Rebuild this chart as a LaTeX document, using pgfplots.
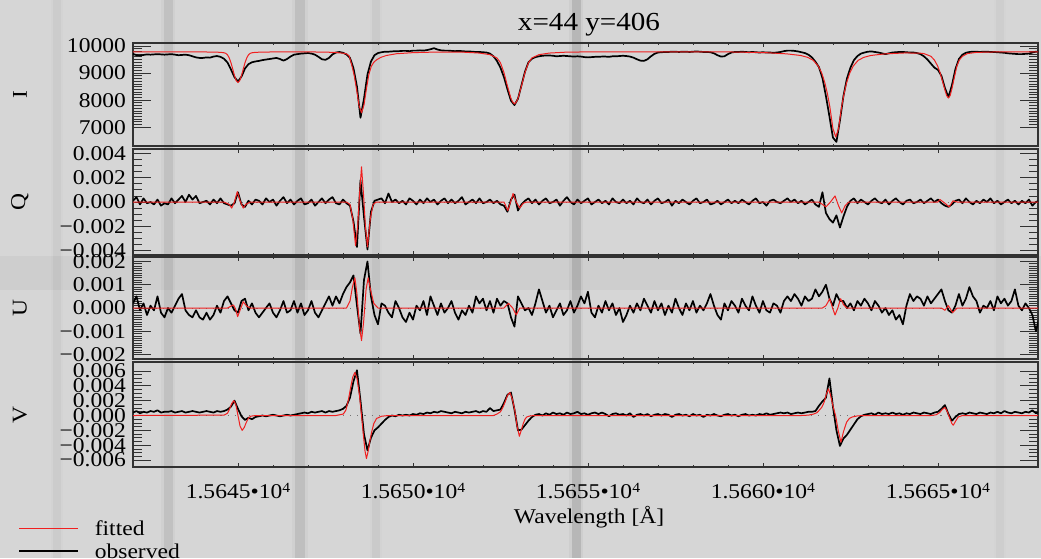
\documentclass[border=0pt]{standalone}
\usepackage{fontspec}
\setmainfont{Liberation Serif}[FakeStretch=1.12]
\usepackage{pgfplots}
\usepackage{pgfplotstable}
\pgfplotsset{compat=1.18}

\definecolor{bgc}{RGB}{214,214,214}
\definecolor{fitred}{RGB}{240,32,32}
\definecolor{framec}{RGB}{50,50,50}

\newcommand{\lab}{\fontsize{21}{25}\selectfont}
\newcommand{\wl}[1]{1.56#1•10\raisebox{6pt}{\fontsize{14}{14}\selectfont 4}}

% observed Stokes profiles: I in counts, Q, U, V in units of 1e-4
\pgfplotstableread{
x I Q U V
15642.0 9710 1 2 4
15642.1 9660 4 5 6
15642.2 9650 -2 -1 3
15642.3 9670 3 2 5
15642.4 9690 -1 -3 4
15642.5 9680 0 1 6
15642.6 9690 -2 -1 5
15642.7 9700 2 5 7
15642.8 9690 -3 -2 4
15642.9 9680 -1 -4 5
15643.0 9690 -2 0 5
15643.1 9700 3 -2 6
15643.2 9680 -1 1 4
15643.3 9660 2 4 5
15643.4 9670 5 6 6
15643.5 9680 0 -1 4
15643.6 9660 6 -3 5
15643.7 9620 2 -4 6
15643.8 9580 5 -1 5
15643.9 9560 -1 -4 4
15644.0 9560 0 -5 5
15644.1 9580 1 -2 6
15644.2 9570 -2 -5 5
15644.3 9610 2 -3 4
15644.4 9630 -1 1 6
15644.5 9600 3 -2 5
15644.6 9530 -1 3 6
15644.7 9390 -2 5 8
15644.8 9130 -3 2 12
15644.9 8850 -1 -1 20
15645.0 8690 8 -2 9
15645.1 8870 -2 3 -1
15645.2 9170 -4 4 -6
15645.3 9330 1 -1 -3
15645.4 9400 -2 2 -5
15645.5 9430 2 -2 -2
15645.6 9450 1 -4 -1
15645.7 9480 -2 -2 0
15645.8 9500 3 0 -1
15645.9 9520 0 2 0
15646.0 9540 2 -2 1
15646.1 9560 -3 -4 0
15646.2 9520 1 -1 -1
15646.3 9460 4 3 0
15646.4 9520 -1 -2 1
15646.5 9610 2 -1 0
15646.6 9680 -2 3 1
15646.7 9700 1 -2 2
15646.8 9720 3 2 3
15646.9 9730 -2 -3 4
15647.0 9740 -1 -1 3
15647.1 9720 2 3 5
15647.2 9680 -3 -2 4
15647.3 9600 0 -4 5
15647.4 9510 3 -1 6
15647.5 9490 -1 2 4
15647.6 9560 2 5 6
15647.7 9690 4 1 5
15647.8 9760 -1 5 6
15647.9 9780 -2 2 7
15648.0 9750 2 6 9
15648.1 9690 -1 9 13
15648.2 9560 -3 11 24
15648.3 9180 -16 14 46
15648.4 8500 -37 1 61
15648.5 7350 18 -11 20
15648.6 8050 -12 12 -25
15648.7 8950 -39 20 -47
15648.8 9430 -8 5 -30
15648.9 9660 1 -3 -20
15649.0 9740 2 -7 -16
15649.1 9770 3 2 -11
15649.2 9790 -1 1 -6
15649.3 9790 7 -2 -2
15649.4 9800 0 -4 0
15649.5 9810 2 3 -1
15649.6 9810 -1 0 1
15649.7 9820 1 -4 0
15649.8 9820 -2 -6 1
15649.9 9810 3 -2 0
15650.0 9830 1 -5 2
15650.1 9830 -2 1 1
15650.2 9840 2 -1 3
15650.3 9830 -1 3 2
15650.4 9850 3 -3 4
15650.5 9880 0 5 3
15650.6 9920 2 1 5
15650.7 9870 -2 -3 4
15650.8 9840 1 2 6
15650.9 9830 3 -2 5
15651.0 9830 -1 0 4
15651.1 9820 2 3 3
15651.2 9810 -1 -2 5
15651.3 9820 1 -5 4
15651.4 9810 4 -1 3
15651.5 9800 -2 -3 5
15651.6 9800 0 1 4
15651.7 9790 2 -2 5
15651.8 9780 -1 5 6
15651.9 9780 3 2 4
15652.0 9770 -1 4 6
15652.1 9760 0 -1 5
15652.2 9720 2 3 10
15652.3 9620 -1 -2 6
15652.4 9450 1 4 7
15652.5 9200 -2 1 8
15652.6 8850 -3 3 17
15652.7 8400 -8 2 28
15652.8 7980 2 -4 31
15652.9 7820 6 -8 8
15653.0 8050 -7 5 -20
15653.1 8550 -2 2 -19
15653.2 9050 1 -1 -13
15653.3 9400 3 0 -7
15653.4 9530 -1 -3 -2
15653.5 9590 2 2 1
15653.6 9620 -2 8 2
15653.7 9640 1 3 0
15653.8 9650 3 -2 3
15653.9 9650 -1 1 1
15654.0 9640 0 -4 4
15654.1 9620 2 -1 2
15654.2 9630 -3 2 3
15654.3 9640 1 -3 1
15654.4 9630 4 -1 4
15654.5 9620 0 3 2
15654.6 9610 -2 -2 3
15654.7 9620 2 1 5
15654.8 9610 -1 5 2
15654.9 9590 1 2 3
15655.0 9580 3 7 1
15655.1 9590 -2 -2 3
15655.2 9600 0 -4 4
15655.3 9600 2 1 2
15655.4 9610 -1 -2 4
15655.5 9610 1 3 2
15655.6 9600 -2 -1 -1
15655.7 9620 3 2 2
15655.8 9620 0 -3 3
15655.9 9630 -1 0 1
15656.0 9640 2 -6 2
15656.1 9630 -1 -3 0
15656.2 9610 1 1 3
15656.3 9570 -2 -2 -2
15656.4 9510 3 2 1
15656.5 9460 0 -1 2
15656.6 9450 -1 4 0
15656.7 9510 2 1 2
15656.8 9620 -2 -2 -1
15656.9 9710 1 3 1
15657.0 9760 3 -1 2
15657.1 9770 -1 2 0
15657.2 9780 0 -3 2
15657.3 9780 2 1 1
15657.4 9790 -3 -2 -2
15657.5 9790 1 4 1
15657.6 9780 -1 0 2
15657.7 9790 2 -3 0
15657.8 9790 0 2 1
15657.9 9780 -2 -1 -1
15658.0 9790 1 3 2
15658.1 9800 3 -2 0
15658.2 9790 -1 1 1
15658.3 9780 0 -1 -2
15658.4 9780 2 2 1
15658.5 9770 -2 6 0
15658.6 9730 -1 1 2
15658.7 9660 1 -3 0
15658.8 9610 -2 -5 -1
15658.9 9620 0 2 1
15659.0 9700 2 -1 2
15659.1 9760 -1 3 0
15659.2 9780 1 1 1
15659.3 9780 -1 -2 -1
15659.4 9790 2 4 1
15659.5 9780 0 1 2
15659.6 9770 -2 -1 0
15659.7 9780 1 5 1
15659.8 9770 3 1 0
15659.9 9760 -1 -2 2
15660.0 9770 0 3 1
15660.1 9760 -3 -1 3
15660.2 9760 1 -2 1
15660.3 9750 2 2 2
15660.4 9760 0 1 3
15660.5 9780 -1 -2 4
15660.6 9810 1 3 3
15660.7 9830 3 5 4
15660.8 9830 0 3 2
15660.9 9820 2 6 3
15661.0 9800 -1 4 4
15661.1 9770 1 1 3
15661.2 9740 -2 5 4
15661.3 9680 0 3 5
15661.4 9580 2 4 5
15661.5 9420 -2 8 6
15661.6 9220 -4 5 13
15661.7 8820 8 7 19
15661.8 8150 -9 10 24
15661.9 7400 -14 4 50
15662.0 6620 -17 1 12
15662.1 6460 -11 6 -20
15662.2 7250 -21 3 -41
15662.3 8150 -12 3 -31
15662.4 8800 -4 0 -26
15662.5 9200 1 2 -19
15662.6 9480 3 -1 -12
15662.7 9630 -1 3 -5
15662.8 9720 2 1 -1
15662.9 9760 0 4 1
15663.0 9790 -2 2 2
15663.1 9800 1 -1 3
15663.2 9780 3 3 1
15663.3 9760 0 1 4
15663.4 9730 -1 -2 2
15663.5 9700 2 0 3
15663.6 9730 -2 -3 2
15663.7 9760 1 -1 4
15663.8 9770 3 -5 2
15663.9 9780 0 -3 3
15664.0 9780 -2 -7 1
15664.1 9770 1 1 3
15664.2 9760 2 6 2
15664.3 9760 -1 3 4
15664.4 9740 0 5 3
15664.5 9700 2 4 2
15664.6 9620 -1 1 4
15664.7 9500 1 5 3
15664.8 9350 3 2 2
15664.9 9200 0 4 4
15665.0 9120 2 6 5
15665.1 8900 -1 8 9
15665.2 8450 -3 3 14
15665.3 8110 -4 -1 2
15665.4 8550 -2 -2 -7
15665.5 9150 1 1 -2
15665.6 9520 2 6 2
15665.7 9680 -1 1 3
15665.8 9750 3 4 2
15665.9 9780 0 9 4
15666.0 9790 -2 5 3
15666.1 9790 1 3 2
15666.2 9780 -1 -2 4
15666.3 9790 2 1 3
15666.4 9790 0 0 2
15666.5 9780 3 3 4
15666.6 9780 -1 -1 3
15666.7 9770 1 5 5
15666.8 9760 -2 2 3
15666.9 9750 0 4 6
15667.0 9730 2 1 4
15667.1 9720 -1 3 3
15667.2 9710 1 8 5
15667.3 9700 -2 1 4
15667.4 9700 1 -1 3
15667.5 9710 -1 2 5
15667.6 9720 2 0 4
15667.7 9760 -3 -3 7
15667.8 9790 0 -10 3
15667.9 9800 1 -4 5
}\obs

% fitted Stokes I
\pgfplotstableread{
x I
15642.0 9788
15643.0 9786
15644.0 9782
15644.5 9768
15644.6 9750
15644.65 9730
15644.70 9676
15644.75 9559
15644.80 9380
15644.85 9148
15644.90 8907
15644.95 8721
15645.00 8650
15645.05 8721
15645.10 8907
15645.15 9148
15645.20 9380
15645.25 9559
15645.30 9676
15645.35 9730
15645.40 9750
15645.5 9766
15645.7 9776
15646.2 9783
15647.0 9782
15647.5 9775
15647.8 9760
15648.0 9735
15648.1 9710
15648.18 9630
15648.25 9300
15648.32 8920
15648.39 8380
15648.46 7800
15648.53 7530
15648.60 7820
15648.67 8420
15648.74 8950
15648.81 9250
15648.88 9400
15648.96 9490
15649.08 9580
15649.24 9650
15649.53 9715
15650.0 9755
15650.7 9778
15651.4 9775
15651.9 9740
15652.2 9680
15652.4 9560
15652.5 9380
15652.6 9020
15652.7 8520
15652.8 8060
15652.85 7930
15652.9 7860
15652.95 7930
15653.0 8060
15653.1 8520
15653.2 9020
15653.3 9380
15653.4 9560
15653.6 9680
15653.9 9740
15654.4 9775
15655.5 9787
15657.0 9788
15658.5 9785
15659.08 9780
15660.08 9755
15660.68 9710
15661.08 9650
15661.28 9580
15661.44 9470
15661.58 9260
15661.68 9000
15661.77 8640
15661.84 8250
15661.91 7770
15662.00 6950
15662.08 6640
15662.16 6950
15662.25 7770
15662.32 8250
15662.39 8640
15662.48 9000
15662.58 9260
15662.72 9470
15662.88 9580
15663.08 9650
15663.48 9710
15664.08 9745
15664.5 9735
15664.6 9720
15664.8 9620
15664.9 9480
15664.99 9270
15665.06 9020
15665.13 8700
15665.2 8380
15665.25 8170
15665.3 8080
15665.35 8170
15665.4 8420
15665.47 8850
15665.54 9250
15665.61 9480
15665.7 9620
15665.84 9720
15666.1 9765
15666.6 9780
15667.9 9788
}\fitI

% fitted Stokes Q (1e-4)
\pgfplotstableread{
x y
15642.0 0
15644.6 0
15644.75 -2
15644.82 -5
15644.9 0
15644.98 8.5
15645.06 1
15645.15 -5
15645.22 -2
15645.35 0
15648.1 0
15648.2 -2
15648.28 -14
15648.36 -36
15648.42 -20
15648.47 5
15648.53 29
15648.59 5
15648.64 -20
15648.7 -37
15648.78 -14
15648.86 -2
15648.95 0
15652.6 0
15652.71 -7
15652.79 0
15652.86 7
15652.95 0
15653.05 -5
15653.15 -1
15653.25 0
15661.6 0
15661.8 -4
15661.93 0
15662.06 5
15662.16 -3
15662.25 -9
15662.35 -3
15662.45 0
15665.0 0
15665.06 2
15665.2 -1
15665.32 -4
15665.43 1
15665.55 0
15667.9 0
}\fitQ

% fitted Stokes U (1e-4)
\pgfplotstableread{
x y
15642.0 0
15644.7 0
15644.8 0.8
15644.87 1.3
15644.93 -0.5
15644.99 -3.7
15645.07 -0.5
15645.15 2.7
15645.25 0.8
15645.35 0
15648.1 0
15648.2 3
15648.27 9
15648.34 13
15648.4 6
15648.47 -8
15648.53 -14
15648.59 -6
15648.66 8
15648.72 13
15648.8 7
15648.88 2
15649.0 0
15652.6 0
15652.73 2
15652.85 0
15652.95 -3
15653.05 0
15661.7 0
15661.8 1
15661.91 4
15661.99 0
15662.06 -3
15662.14 0
15662.22 4
15662.3 1.5
15662.4 0
15665.1 0
15665.2 -1
15665.3 1
15665.42 -2
15665.55 0
15667.9 0
}\fitU

% fitted Stokes V (1e-4)
\pgfplotstableread{
x y
15642.0 0
15644.6 0.5
15644.7 3
15644.76 8.9
15644.82 16
15644.88 20
15644.94 14.5
15645.0 0
15645.06 -14.5
15645.12 -20
15645.18 -16
15645.24 -8.9
15645.3 -3.6
15645.36 -1
15645.5 0
15647.8 0
15648.01 2
15648.08 7
15648.15 20
15648.22 38
15648.28 52
15648.34 58
15648.40 50
15648.47 28
15648.53 0
15648.58 -25
15648.63 -48
15648.67 -58
15648.72 -48
15648.77 -34
15648.82 -22
15648.88 -11
15648.96 -4
15649.1 -1
15649.3 0
15652.3 0
15652.4 2
15652.5 5
15652.57 11
15652.63 18
15652.7 27
15652.77 31
15652.84 22
15652.91 7
15652.97 -13
15653.04 -28
15653.1 -19
15653.15 -11
15653.2 -5
15653.25 -2
15653.35 -0.5
15653.5 0
15661.1 0
15661.3 0.5
15661.45 2
15661.55 4
15661.68 11
15661.75 18
15661.82 30
15661.87 36
15661.93 28
15662.0 13
15662.08 -1
15662.15 -20
15662.23 -36
15662.3 -22
15662.39 -9
15662.47 -4
15662.55 -2
15662.7 -0.5
15662.9 0
15664.8 0
15664.95 1
15665.05 4
15665.12 8
15665.2 11
15665.27 5
15665.34 -4
15665.4 -11
15665.44 -13
15665.5 -8
15665.58 -2
15665.7 0
15667.9 0
}\fitV

\pgfplotsset{
  stokes/.style={
    scale only axis, width=905pt,
    xmin=15642, xmax=15667.86,
    xtick={15645,15650,15655,15660,15665},
    minor x tick num=4,
    xticklabels={},
    scaled x ticks=false, scaled y ticks=false,
    tick align=inside,
    xtick pos=both, ytick pos=both,
    major tick length=18pt, minor tick length=9pt,
    xtick style={/pgfplots/major tick length=4pt, /pgfplots/minor tick length=2pt},
    axis line style={framec, line width=1.4pt},
    tick style={framec, line width=0.8pt},
    tick label style={font=\lab, text=black},
    yticklabel style={anchor=east, inner sep=0pt, xshift=-7pt},
    ylabel style={at={(axis description cs:-0.1249,0.5)}, anchor=center, font=\lab},
  },
  obsline/.style={black, line width=1.7pt, line join=round},
  fitline/.style={fitred, line width=1pt, line join=round},
  zeroline/.style={black!55, line width=1pt, dash pattern=on 1.2pt off 6pt},
}

\begin{document}
\begin{tikzpicture}
\useasboundingbox (0,0) rectangle (1041pt,-558pt);
% slit-image backdrop
\fill[bgc] (0,0) rectangle (1041pt,-558pt);
\foreach \xc/\w/\o in {57/8/0.03, 168/9/0.07, 300/10/0.08, 376/8/0.04, 576/9/0.11, 1000/8/0.025} {
  \fill[black, opacity=\o] ({(\xc-\w/2)*1pt},0) rectangle ({(\xc+\w/2)*1pt},-558pt);
  \fill[black, opacity=\o/3] ({(\xc-0.8*\w)*1pt},0) rectangle ({(\xc+0.8*\w)*1pt},-558pt);
}
\fill[black, opacity=0.035] (0,-256pt) rectangle (1041pt,-290pt);

\node[font=\fontsize{26}{30}\selectfont, anchor=base] at (589pt,-30pt) {x=44 y=406};

% Stokes I
\begin{axis}[stokes, at={(133pt,-43pt)}, anchor=north west, height=103pt,
  ymin=6307, ymax=10111,
  ytick={7000,8000,9000,10000}, yticklabels={7000,8000,9000,10000},
  minor y tick num=9, ylabel={I}]
\addplot[obsline] table[x=x, y=I] {\obs};
\addplot[fitline] table[x=x, y=I] {\fitI};
\end{axis}

% Stokes Q
\begin{axis}[stokes, at={(133pt,-149pt)}, anchor=north west, height=106pt,
  ymin=-0.00436, ymax=0.00436,
  ytick={-0.004,-0.002,0,0.002,0.004},
  yticklabels={−0.004,−0.002,0.000,0.002,0.004},
  minor y tick num=3, ylabel={Q}]
\addplot[zeroline] coordinates {(15641,0) (15669,0)};
\addplot[obsline] table[x=x, y expr=\thisrow{Q}*0.0001] {\obs};
\addplot[fitline] table[x=x, y expr=\thisrow{y}*0.0001] {\fitQ};
\end{axis}

% Stokes U
\begin{axis}[stokes, at={(133pt,-257pt)}, anchor=north west, height=102pt,
  ymin=-0.00219, ymax=0.00219,
  ytick={-0.002,-0.001,0,0.001,0.002},
  yticklabels={−0.002,−0.001,0.000,0.001,0.002},
  minor y tick num=9, ylabel={U}]
\addplot[zeroline] coordinates {(15641,0) (15669,0)};
\addplot[obsline] table[x=x, y expr=\thisrow{U}*0.0001] {\obs};
\addplot[fitline] table[x=x, y expr=\thisrow{y}*0.0001] {\fitU};
\end{axis}

% Stokes V
\begin{axis}[stokes, at={(133pt,-362pt)}, anchor=north west, height=105pt,
  ymin=-0.00694, ymax=0.00721,
  ytick={-0.006,-0.004,-0.002,0,0.002,0.004,0.006},
  yticklabels={−0.006,−0.004,−0.002,0.000,0.002,0.004,0.006},
  minor y tick num=3, ylabel={V},
  xticklabels={\wl{45},\wl{50},\wl{55},\wl{60},\wl{65}},
  xticklabel style={anchor=north, inner sep=0pt, yshift=-16pt},
  xlabel={Wavelength [Å]},
  xlabel style={at={(axis description cs:0.504,-0.54)}, anchor=base, font=\lab},
  legend style={at={(axis description cs:-0.1271,-0.514)}, anchor=north west,
    draw=none, fill=none, inner sep=0pt, row sep=0pt, font=\lab,
    cells={anchor=base west},
    nodes={inner sep=0pt, text height=14pt, text depth=9pt},
    /tikz/every odd column/.style={column sep=16pt}},
  legend image code/.code={\draw[#1] (0pt,7pt) -- (59pt,7pt);},
  ]
\addplot[zeroline, forget plot] coordinates {(15641,0) (15669,0)};
\addplot[obsline, forget plot] table[x=x, y expr=\thisrow{V}*0.0001] {\obs};
\addplot[fitline, forget plot] table[x=x, y expr=\thisrow{y}*0.0001] {\fitV};
\addlegendimage{fitred, line width=1pt}
\addlegendentry{fitted}
\addlegendimage{black, line width=1.7pt}
\addlegendentry{observed}
\end{axis}
\end{tikzpicture}
\end{document}
